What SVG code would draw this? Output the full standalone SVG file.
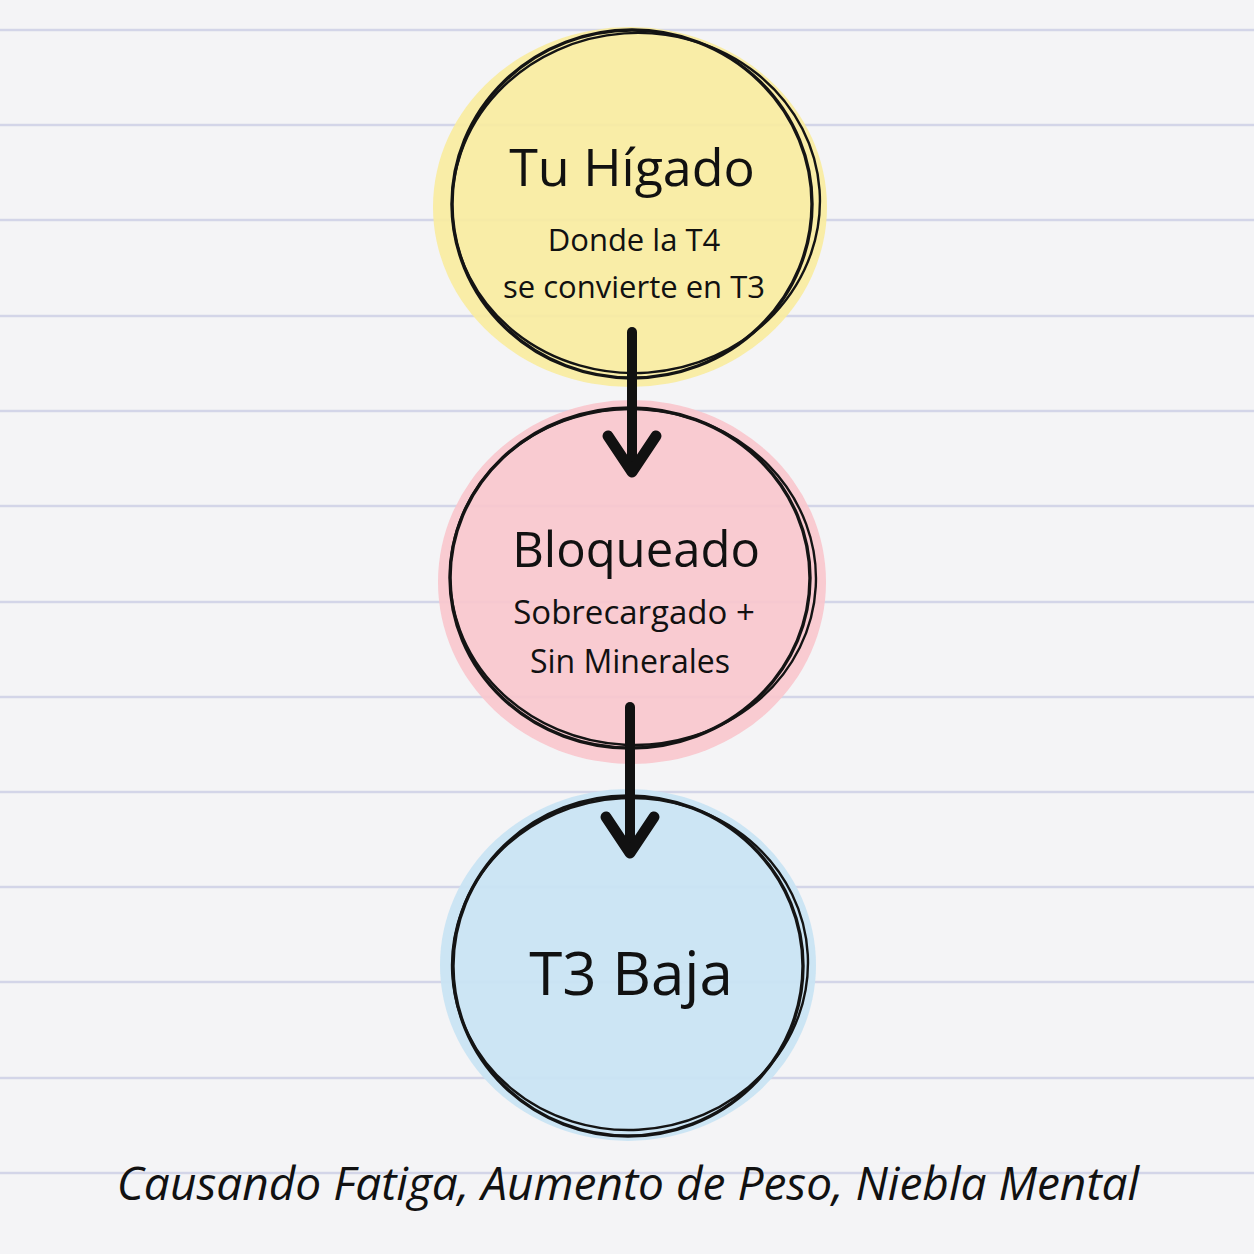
<svg xmlns="http://www.w3.org/2000/svg" width="1254" height="1254" viewBox="0 0 1254 1254">
<style>
.rule{stroke:#d3d5e8;stroke-width:2.5}
.ink{fill:none;stroke:#141414;stroke-width:3.4}
.ink2{fill:none;stroke:#141414;stroke-width:2.4}
.title{font-family:"Comic Sans MS","Open Sans","Noto Sans",sans-serif;font-size:52px;font-weight:500;fill:#111;text-anchor:middle}
.sub{font-family:"Comic Sans MS","Open Sans","Noto Sans",sans-serif;font-size:31px;font-weight:500;fill:#111;text-anchor:middle}
.foot{font-family:"Comic Sans MS","Open Sans","Noto Sans",sans-serif;font-size:46px;font-weight:500;fill:#111;font-style:italic;text-anchor:middle}
.arrow{fill:none;stroke:#111;stroke-width:10;stroke-linecap:round}
.head{fill:none;stroke:#111;stroke-width:11;stroke-linecap:round;stroke-linejoin:round}
</style>
<rect width="1254" height="1254" fill="#f4f4f6"/>
<g id="paper">
<line class="rule" x1="0" y1="30" x2="1254" y2="30"/>
<line class="rule" x1="0" y1="125" x2="1254" y2="125"/>
<line class="rule" x1="0" y1="220" x2="1254" y2="220"/>
<line class="rule" x1="0" y1="316" x2="1254" y2="316"/>
<line class="rule" x1="0" y1="411" x2="1254" y2="411"/>
<line class="rule" x1="0" y1="506" x2="1254" y2="506"/>
<line class="rule" x1="0" y1="602" x2="1254" y2="602"/>
<line class="rule" x1="0" y1="697" x2="1254" y2="697"/>
<line class="rule" x1="0" y1="792" x2="1254" y2="792"/>
<line class="rule" x1="0" y1="887" x2="1254" y2="887"/>
<line class="rule" x1="0" y1="982" x2="1254" y2="982"/>
<line class="rule" x1="0" y1="1078" x2="1254" y2="1078"/>
<line class="rule" x1="0" y1="1173" x2="1254" y2="1173"/>
</g>
<g id="node-higado">
<ellipse cx="630" cy="207" rx="197" ry="180" fill="#f8eca0" opacity="0.92"/>
<ellipse class="ink" cx="632" cy="204" rx="180" ry="174"/>
<ellipse class="ink2" cx="636" cy="203" rx="184" ry="170" transform="rotate(-4 636 203)"/>
<text class="title" x="632" y="186">Tu Hígado</text>
<text class="sub" x="634" y="251">Donde la T4</text>
<text class="sub" x="634" y="298">se convierte en T3</text>
</g>
<g id="node-bloqueado">
<ellipse cx="632" cy="582" rx="194" ry="182" fill="#f8c7cd" opacity="0.92"/>
<ellipse class="ink" cx="630" cy="578" rx="180" ry="170"/>
<ellipse class="ink2" cx="633" cy="577" rx="183" ry="168" transform="rotate(3 633 577)"/>
<text class="title" x="636" y="567" style="font-size:49px">Bloqueado</text>
<text class="sub" x="634" y="624" style="font-size:33px">Sobrecargado +</text>
<text class="sub" x="630" y="673" style="font-size:32px">Sin Minerales</text>
</g>
<g id="node-t3">
<ellipse cx="628" cy="965" rx="188" ry="176" fill="#c9e4f3" opacity="0.95"/>
<ellipse class="ink" cx="628" cy="966" rx="175" ry="170"/>
<ellipse class="ink2" cx="630" cy="964" rx="178" ry="166" transform="rotate(-3 630 964)"/>
<text class="title" x="631" y="995" style="font-size:60px">T3 Baja</text>
</g>
<g id="connectors">
<line class="arrow" x1="632" y1="332" x2="632" y2="468"/>
<polyline class="head" points="608,436 632,472 656,436"/>
<line class="arrow" x1="630" y1="707" x2="630" y2="850"/>
<polyline class="head" points="606,817 630,853 654,817"/>
</g>
<text id="footer" class="foot" x="628" y="1200">Causando Fatiga, Aumento de Peso, Niebla Mental</text>
</svg>
